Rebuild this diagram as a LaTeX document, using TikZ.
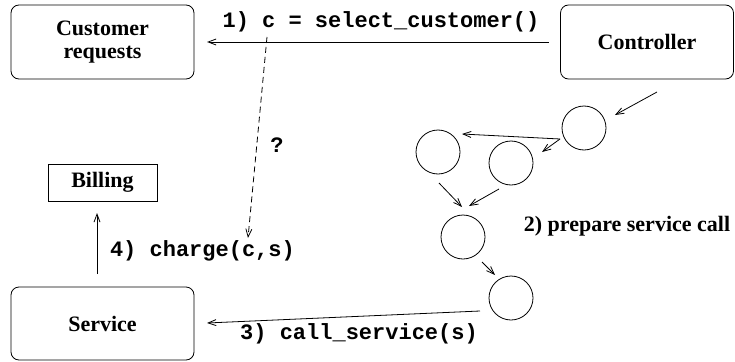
\documentclass[tikz,border=0pt]{standalone}
\usepackage{fontspec}
\setmainfont{Liberation Serif}
\setmonofont{Liberation Mono}
\usetikzlibrary{arrows.meta,calc}
\begin{document}
\begin{tikzpicture}[x=1pt,y=-1pt,
  every node/.style={inner sep=0pt, outer sep=0pt},
  rbox/.style={draw, line width=0.8pt, rounded corners=8pt, minimum width=183pt, minimum height=74pt, align=center, font=\fontsize{22}{23.5}\selectfont\bfseries},
  sbox/.style={draw, line width=0.8pt, minimum width=109pt, minimum height=37pt, font=\fontsize{22}{23.5}\selectfont\bfseries},
  circ/.style={draw, line width=0.8pt, circle, minimum size=44pt},
  arr/.style={line width=0.8pt, -{Straight Barb[length=8pt,width=6pt,line width=0.8pt]}},
  code/.style={font=\fontsize{22}{24}\selectfont\ttfamily\bfseries},
  lbl/.style={font=\fontsize{22}{24}\selectfont\bfseries}]
\useasboundingbox (0,0) rectangle (735,361);
\node[rbox] (cust) at (102.5,42) {Customer\\requests};
\node[rbox, minimum width=173pt] (ctrl) at (647,42) {Controller};
\node[sbox] (bill) at (102.5,182.5) {Billing};
\node[rbox, minimum height=73pt] (svc) at (102.5,323.5) {Service};
\node[circ] (c1) at (584,128) {};
\node[circ] (c2) at (438,152) {};
\node[circ] (c3) at (511,163) {};
\node[circ] (c4) at (463,237) {};
\node[circ] (c5) at (511,298) {};
% 1) select customer
\draw[arr, shorten <=12pt, shorten >=13pt] (ctrl.west) -- (cust.east);
\node[code] (l1) at (381,22) {1) c = select\_customer()};
% dashed
\coordinate (dq1) at (267,37);
\coordinate (dq2) at (248,238);
\draw[arr, dashed, dash pattern=on 6pt off 4pt] (dq1) -- (dq2);
\node[code] (q) at (277,145) {?};
% controller to circles
\draw[arr] ($(ctrl)+(10,50)$) -- ($(c1)+(31,-13)$);
\draw[arr] ($(c1)+(-24,11)$) -- ($(c2)+(24,-18)$);
\draw[arr] ($(c1)+(-24,11)$) -- ($(c3)+(31,-11)$);
\draw[arr] ($(c2)+(1,31)$) -- ($(c4)+(-1,-30)$);
\draw[arr] ($(c3)+(-12,26)$) -- ($(c4)+(6,-31)$);
\draw[arr] ($(c4)+(19,25)$) -- ($(c5)+(-16,-23)$);
\node[lbl] (l2) at (627,226) {2) prepare service call};
% 3) call service
\draw[arr] ($(c5)+(-31,13)$) -- ($(svc.east)+(13,-0.5)$);
\node[code] (l3) at (359,334) {3) call\_service(s)};
% 4) charge
\draw[arr] ($(svc.north)+(-5.5,-13)$) -- ($(bill.south)+(-5.5,12)$);
\node[code, anchor=west] (l4) at (110,251) {4) charge(c,s)};
\end{tikzpicture}
\end{document}
